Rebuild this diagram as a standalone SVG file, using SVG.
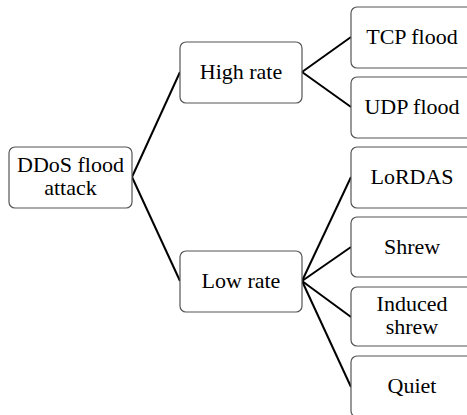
<svg xmlns="http://www.w3.org/2000/svg" width="467" height="415" viewBox="0 0 467 415">
<style>
.box{fill:#fff;stroke:#555;stroke-width:1.2}
.c{stroke:#000;stroke-width:2;fill:none}
</style>
<rect width="467" height="415" fill="#fff"/>
<g id="connectors">
<line class="c" x1="132" y1="177" x2="180" y2="72"/>
<line class="c" x1="132" y1="177" x2="180" y2="281"/>
<line class="c" x1="302" y1="72" x2="351" y2="37"/>
<line class="c" x1="302" y1="72" x2="351" y2="107"/>
<line class="c" x1="302" y1="281" x2="351" y2="177"/>
<line class="c" x1="302" y1="281" x2="351" y2="247"/>
<line class="c" x1="302" y1="281" x2="351" y2="317"/>
<line class="c" x1="302" y1="281" x2="351" y2="387"/>
</g>
<g font-family="Liberation Serif, Times New Roman, serif" font-size="22" text-anchor="middle" fill="#000">
<g id="ddos"><rect class="box" x="9" y="147" width="123" height="61" rx="6"/><text x="70.5" y="172">DDoS flood</text><text x="70.5" y="195">attack</text></g>
<g id="high"><rect class="box" x="180" y="42" width="122" height="61" rx="6"/><text x="241" y="79">High rate</text></g>
<g id="low"><rect class="box" x="180" y="251" width="122" height="61" rx="6"/><text x="241" y="288">Low rate</text></g>
<g id="tcp"><rect class="box" x="351" y="7" width="122" height="61" rx="6"/><text x="412" y="44">TCP flood</text></g>
<g id="udp"><rect class="box" x="351" y="77" width="122" height="61" rx="6"/><text x="412" y="114">UDP flood</text></g>
<g id="lordas"><rect class="box" x="351" y="147" width="122" height="61" rx="6"/><text x="412" y="184">LoRDAS</text></g>
<g id="shrew"><rect class="box" x="351" y="217" width="122" height="60" rx="6"/><text x="412" y="254">Shrew</text></g>
<g id="induced"><rect class="box" x="351" y="287" width="122" height="59" rx="6"/><text x="412" y="311">Induced</text><text x="412" y="334">shrew</text></g>
<g id="quiet"><rect class="box" x="351" y="356" width="122" height="61" rx="6"/><text x="412" y="393">Quiet</text></g>
</g>
</svg>
